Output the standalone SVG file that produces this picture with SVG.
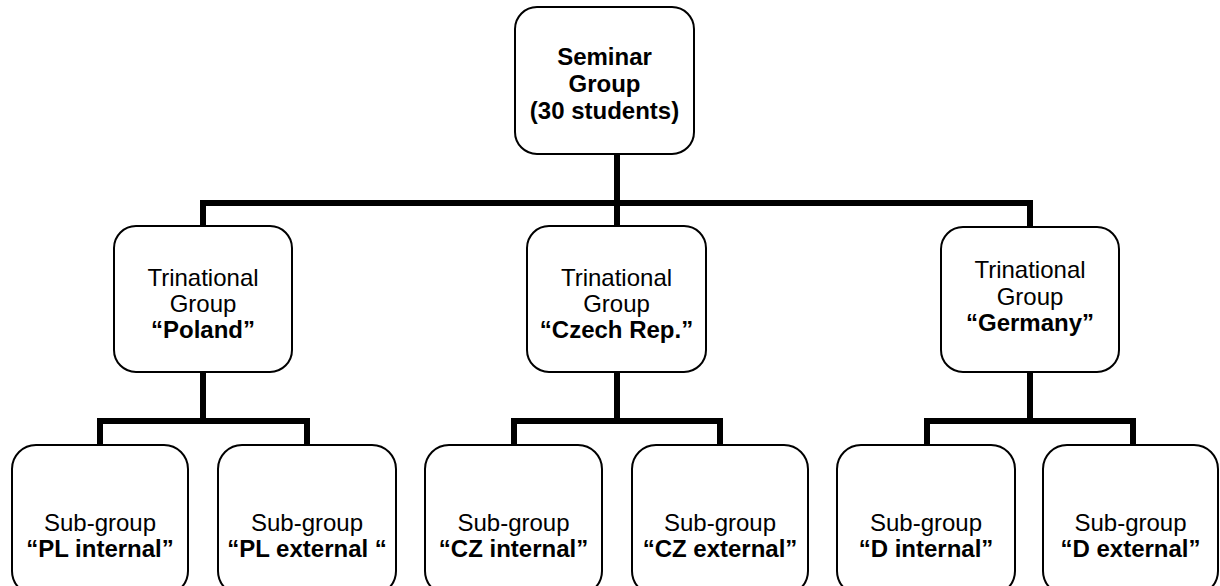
<svg xmlns="http://www.w3.org/2000/svg" width="1220" height="586" viewBox="0 0 1220 586">
<style>
.box{fill:#fff;stroke:#000;stroke-width:2}
.t{font-family:"Liberation Sans",Arial,sans-serif;font-size:24px;fill:#000;text-anchor:middle}
.b{font-weight:bold}
.c{fill:none;stroke:#000;stroke-width:6;stroke-linecap:square;stroke-linejoin:miter}
</style>
<rect width="1220" height="586" fill="#fff"/>
<g id="connectors">
<path class="c" d="M617 154V203M203 226V203H1030V226M617 203V226"/>
<path class="c" d="M203 372V421M100 444V421H307V444"/>
<path class="c" d="M617 372V421M514 444V421H720V444"/>
<path class="c" d="M1030 372V421M927 444V421H1133V444"/>
</g>
<g id="seminar">
<rect class="box" x="515" y="7" width="179" height="147" rx="22"/>
<text class="t b" x="604.5" y="65">Seminar</text>
<text class="t b" x="604.5" y="92">Group</text>
<text class="t b" x="604.5" y="119">(30 students)</text>
</g>
<g id="poland">
<rect class="box" x="114" y="226" width="178" height="146" rx="22"/>
<text class="t" x="203" y="286">Trinational</text>
<text class="t" x="203" y="312">Group</text>
<text class="t b" x="203" y="338">“Poland”</text>
</g>
<g id="czech">
<rect class="box" x="527" y="226" width="179" height="146" rx="22"/>
<text class="t" x="616.5" y="286">Trinational</text>
<text class="t" x="616.5" y="312">Group</text>
<text class="t b" x="616.5" y="338">“Czech Rep.”</text>
</g>
<g id="germany">
<rect class="box" x="941" y="227" width="178" height="145" rx="22"/>
<text class="t" x="1030" y="278">Trinational</text>
<text class="t" x="1030" y="305">Group</text>
<text class="t b" x="1030" y="331">“Germany”</text>
</g>
<g id="pl-internal">
<rect class="box" x="12" y="445" width="176" height="150" rx="24"/>
<text class="t" x="100" y="531">Sub-group</text>
<text class="t b" x="100" y="557">“PL internal”</text>
</g>
<g id="pl-external">
<rect class="box" x="218" y="445" width="178" height="150" rx="24"/>
<text class="t" x="307" y="531">Sub-group</text>
<text class="t b" x="307" y="557" xml:space="preserve">“PL external “</text>
</g>
<g id="cz-internal">
<rect class="box" x="425" y="445" width="177" height="150" rx="24"/>
<text class="t" x="513.5" y="531">Sub-group</text>
<text class="t b" x="513.5" y="557">“CZ internal”</text>
</g>
<g id="cz-external">
<rect class="box" x="632" y="445" width="176" height="150" rx="24"/>
<text class="t" x="720" y="531">Sub-group</text>
<text class="t b" x="720" y="557">“CZ external”</text>
</g>
<g id="d-internal">
<rect class="box" x="837" y="445" width="178" height="150" rx="24"/>
<text class="t" x="926" y="531">Sub-group</text>
<text class="t b" x="926" y="557">“D internal”</text>
</g>
<g id="d-external">
<rect class="box" x="1043" y="445" width="175" height="150" rx="24"/>
<text class="t" x="1130.5" y="531">Sub-group</text>
<text class="t b" x="1130.5" y="557">“D external”</text>
</g>
</svg>
